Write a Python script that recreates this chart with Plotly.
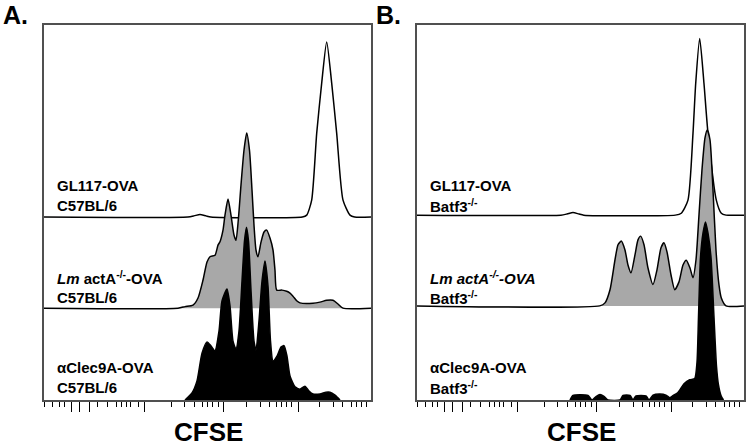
import plotly.graph_objects as go

# ---------------- data (CFSE channel 0-1000, relative cell count 0-100) ----------------
# Panel A
a_top_x = [0, 440, 458.7, 477, 495.4, 510, 790, 803.4, 818.6, 833.9, 849.2, 864.5, 879.8, 895.1, 914.4, 935.8, 950, 1000]
a_top_y = [0, 0, 0.3, 0.7, 0.3, 0, 0, 0.5, 4.5, 22.3, 35.7, 46.7, 35.7, 22.3, 4.5, 0.5, 0, 0]

a_mid_x = [0, 409.8, 431.2, 455.7, 471, 486.3, 498.5, 507.6, 522.9, 532.1, 538.2, 547.4, 553.5, 562.7,
           571.8, 581, 587.1, 594.2, 602.4, 611.6, 619.9, 628.4, 636.1, 642.2, 648.3, 654.4, 663.6, 672.8,
           681, 691.1, 700.3, 706.4, 711.6, 727.8, 742.2, 752.3, 761.4, 773.7, 782.8, 822.6, 844, 864.5,
           883.8, 899.1, 914.4, 1000]
a_mid_y = [0, 0, 0.4, 0.8, 2.7, 7.5, 12.3, 13.7, 14.1, 16.8, 17.7, 20.8, 24.8, 29.1,
           24.8, 19.5, 18.1, 23.5, 32.8, 42.1, 46.7, 42.1, 31.5, 22.1, 15.5, 13.7, 17.6, 20.3,
           20.8, 18.7, 15.5, 10.1, 4.8, 4.8, 4.5, 4.0, 3.2, 1.9, 1.4, 1.3, 1.6, 2.1,
           2.1, 1.1, 0, 0]

a_bot_x = [431.2, 452.6, 467.9, 483.2, 498.5, 510.7, 522.9, 535.2, 544.3, 559.6, 568.8, 578, 587.1,
           596.3, 605.5, 613.1, 619.2, 625.4, 633, 642.2, 648.3, 657.5, 666.7, 675.8, 685, 692.7,
           700.3, 712.5, 724.8, 734, 743.1, 752.3, 767.6, 782.8, 798.1, 810.4, 822.6, 844, 862.4,
           874.6, 889.9, 905.2]
a_bot_y = [0, 1.9, 5.1, 12.5, 15.5, 14.4, 13.1, 18.4, 26.4, 29.6, 25.1, 15.7, 13.6,
           18.4, 31.7, 42.4, 46.1, 42.4, 29.3, 15.7, 13.3, 21.1, 31.7, 37.1, 30.4, 15.7,
           10.4, 11.7, 14.1, 14.5, 11.7, 6.4, 3.5, 2.9, 3.7, 2.4, 1.6, 1.6, 2.1,
           2.1, 1.3, 0]

# Panel B
b_top_x = [0, 440, 458.7, 477, 495.4, 510, 790, 808.2, 828.7, 844, 852.3, 864.5, 877.6, 889.9, 915.3, 930.6, 945, 1000]
b_top_y = [0, 0, 0.3, 0.7, 0.3, 0, 0, 0.5, 4.0, 21.8, 35.1, 47.1, 35.1, 21.8, 4.0, 0.5, 0, 0]

b_mid_x = [0, 558.7, 574.9, 590.2, 605.5, 614.7, 624.7, 636, 645.2, 654.4, 666.6, 675.8, 684.1, 694.2,
           706.4, 721.7, 733.9, 746.2, 755.3, 764.5, 776.7, 788.1, 801.2, 813.4, 823.5, 834.8, 844,
           853.2, 862.4, 871.5, 880.7, 887.7, 896, 905.2, 914.3, 923.5, 930.6, 945, 1000]
b_mid_y = [0, 0, 0.8, 4.3, 12.3, 16.3, 17.3, 14.9, 10.9, 8.8, 13.6, 17.6, 18.6, 16.3,
           10.1, 5.7, 9.6, 15.5, 16.8, 14.4, 8.3, 4.3, 6.4, 10.9, 12.2, 10.1, 7.5,
           12.3, 24.3, 36.3, 44.8, 46.9, 44.3, 30.9, 14.9, 5.6, 2.1, 0, 0]

b_bot_x = [467.9, 477, 498.5, 522.9, 535.2, 547.4, 559.6, 571.8, 584.1, 620.8, 629.9, 651.4, 660.5,
           669.7, 700.3, 709.5, 721.7, 743.1, 761.4, 773.7, 779.8, 798.1, 816.5, 833.9, 849.2,
           856.2, 860.8, 866.9, 874.6, 882.2, 889.9, 899.1, 908.3, 915.9, 922, 929.6, 937.2]
b_bot_y = [0, 1.2, 1.4, 1.2, 0, 0.9, 1.5, 1.0, 0, 0, 1.2, 1.2, 0,
           1.1, 1.1, 0, 1.3, 1.6, 1.3, 0.6, 1.0, 2.0, 4.3, 5.4, 5.7,
           10, 22, 38, 44.5, 47.5, 44.5, 38, 22, 9, 4, 1.2, 0]

# baselines (relative count units) of the stacked histograms: top, middle, bottom
a_offsets = [48.8, 24.5, 0]
b_offsets = [49.3, 25.1, 0]

# axis tick positions (channel units)
major_ticks = [83.5, 109.2, 139.8, 307.9, 547.4, 777.7]
minor_ticks = [2.1, 27.5, 48.9, 64.2, 165.1, 195.7, 220.2, 235.5, 250.8, 266, 287.5,
               388.4, 430.3, 460.8, 486.2, 501.5, 516.8, 532.1,
               619.9, 660.6, 691.1, 711.6, 726.9, 742.2, 757.5,
               844, 883.8, 914.3, 940.9, 956.2, 971.5, 986.8]

a_labels = [["GL117-OVA", "C57BL/6"],
            ["<i>Lm</i> actA<sup>-/-</sup>-OVA", "C57BL/6"],
            ["αClec9A-OVA", "C57BL/6"]]
b_labels = [["GL117-OVA", "Batf3<sup>-/-</sup>"],
            ["<i>Lm actA<sup>-/-</sup>-OVA</i>", "Batf3<sup>-/-</sup>"],
            ["αClec9A-OVA", "Batf3<sup>-/-</sup>"]]
panel_letters = ["A.", "B."]
axis_title = "CFSE"

# ---------------- figure ----------------
FONT = "Arial, Liberation Sans, sans-serif"
fills = ["white", "#a8a8a8", "black"]

fig = go.Figure()


def add_hist(xs, ys, base, fill, xa, ya):
    fig.add_trace(go.Scatter(
        x=xs, y=[base + v for v in ys], mode="lines", fill="toself", fillcolor=fill,
        line=dict(color="black", width=1.5, shape="spline", smoothing=0.6),
        xaxis=xa, yaxis=ya, showlegend=False, hoverinfo="skip"))


panel_data = [
    ("x", "y", [(a_top_x, a_top_y), (a_mid_x, a_mid_y), (a_bot_x, a_bot_y)], a_offsets),
    ("x2", "y2", [(b_top_x, b_top_y), (b_mid_x, b_mid_y), (b_bot_x, b_bot_y)], b_offsets),
]
for xa, ya, hists, offs in panel_data:
    for (hx, hy), off, fc in zip(hists, offs, fills):
        add_hist(hx, hy, off, fc, xa, ya)

W, H = 746, 446
ydom = [(H - 400) / H, (H - 25) / H]
xaxis_common = dict(range=[0, 1000], showgrid=False, zeroline=False, showline=True, linecolor="#505050",
                    linewidth=1.5, mirror=True, ticks="outside", ticklen=10, tickwidth=1, tickcolor="black",
                    tickmode="array", tickvals=major_ticks, showticklabels=False,
                    minor=dict(tickmode="array", tickvals=minor_ticks, ticks="outside", ticklen=5,
                               tickwidth=1, tickcolor="black", showgrid=False))
yaxis_common = dict(range=[0, 100], showgrid=False, zeroline=False, showline=True, linecolor="#505050",
                    linewidth=1.5, mirror=True, ticks="", showticklabels=False)

fig.update_layout(
    width=W, height=H, margin=dict(l=0, r=0, t=0, b=0),
    paper_bgcolor="white", plot_bgcolor="white",
    xaxis=dict(domain=[44 / W, 371 / W], anchor="y", **xaxis_common),
    yaxis=dict(domain=ydom, anchor="x", **yaxis_common),
    xaxis2=dict(domain=[417 / W, 744 / W], anchor="y2", **xaxis_common),
    yaxis2=dict(domain=ydom, anchor="x2", **yaxis_common),
)

ann = []
label_rows = [(185, 205), (277, 297), (367, 387)]
for labels, x0 in [(a_labels, 55), (b_labels, 428)]:
    for (l1, l2), (y1, y2) in zip(labels, label_rows):
        for txt, yy in [(l1, y1), (l2, y2)]:
            ann.append(dict(text=txt, x=x0 / W, y=1 - yy / H, xref="paper", yref="paper",
                            xanchor="left", yanchor="middle", showarrow=False,
                            font=dict(family=FONT, size=15, color="black", weight="bold")))
for letter, x0 in zip(panel_letters, [1, 374]):
    ann.append(dict(text=letter, x=x0 / W, y=1 - 15 / H, xref="paper", yref="paper",
                    xanchor="left", yanchor="middle", showarrow=False,
                    font=dict(family=FONT, size=25, color="black", weight="bold")))
for xc in [208, 581]:
    ann.append(dict(text=axis_title, x=xc / W, y=1 - 432 / H, xref="paper", yref="paper",
                    xanchor="center", yanchor="middle", showarrow=False,
                    font=dict(family=FONT, size=26, color="black", weight="bold")))
fig.update_layout(annotations=ann)

fig.write_html("out.html", config={"displayModeBar": False},
               post_script="document.body.style.margin='0';document.body.style.overflow='hidden';")
